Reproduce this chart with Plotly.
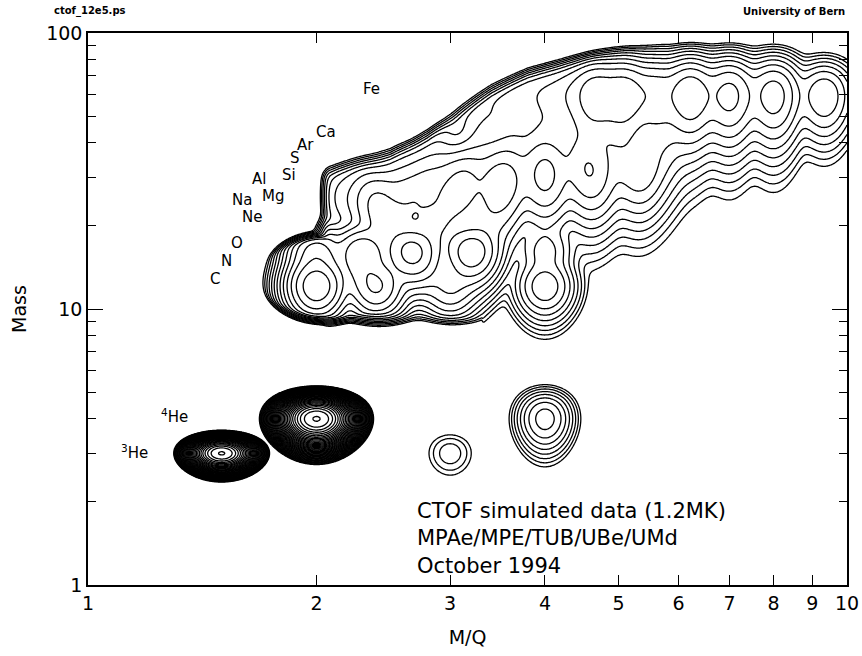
import numpy as np
import plotly.graph_objects as go

# ---------------- ion peaks ----------------
# helium: position (M/Q, mass), peak height (log10 counts), widths and profile exponent
he_mq = [1.5, 2.0, 3.0, 4.0]
he_mass = [3.0, 4.0, 3.0, 4.0]
he_logcounts = [10.82, 11.72, 1.1, 2.55]
he_width_logmq = [0.0227, 0.0261, 0.0311, 0.0315]
he_width_mass = [0.23, 0.44, 0.558, 0.88]
he_profile_power = [2.3, 2.3, 2.0, 2.0]

# heavy ions (C ... Fe), one entry per charge state
heavy_mq = [2.0, 2.4, 3.0, 4.0,                                  # C
            2.0, 2.33, 2.8,                                      # N
            2.0, 2.29, 2.67, 3.2, 4.0,                           # O
            2.5, 2.86, 3.33,                                     # Ne
            2.18, 2.4, 2.67, 3.0, 3.43,                          # Mg
            2.15, 2.33, 2.55, 2.8, 3.11, 3.5, 4.0, 4.67,         # Si
            2.29, 2.67, 2.91, 3.2, 3.56, 4.0, 4.57, 5.33,        # S
            2.5, 2.86, 3.33, 3.64, 4.0, 4.44, 5.0, 5.71,         # Ar
            2.95, 3.11, 3.29, 3.5, 3.73, 4.0, 4.31, 4.67, 5.09, 5.6,
            6.22, 7.0, 8.0, 9.33, 11.2]                          # Fe
heavy_mass = [12, 12, 12, 12,
              14, 14, 14,
              16, 16, 16, 16, 16,
              20, 20, 20,
              24, 24, 24, 24, 24,
              28, 28, 28, 28, 28, 28, 28, 28,
              32, 32, 32, 32, 32, 32, 32, 32,
              40, 40, 40, 40, 40, 40, 40, 40,
              59, 59, 59, 59, 59, 59, 59, 59, 59, 59,
              59, 59, 59, 59, 59]
heavy_logcounts = [4.1, 3.6, 2.7, 2.6,
                   3.2, 3.1, 2.6,
                   3.4, 3.5, 3.7, 3.5, 2.2,
                   3.0, 2.9, 2.6,
                   2.0, 3.0, 2.8, 2.8, 2.5,
                   1.8, 2.1, 2.3, 2.6, 3.0, 3.1, 2.7, 2.3,
                   1.6, 2.0, 2.2, 2.4, 2.6, 2.9, 2.9, 2.6,
                   1.6, 1.9, 2.1, 2.2, 2.3, 2.4, 2.4, 2.2,
                   1.4, 1.6, 1.8, 1.95, 2.1, 2.3, 2.55, 3.2, 3.2, 2.9,
                   3.25, 3.1, 2.85, 2.35, 1.8]
heavy_sigma_mass = [1.3, 1.3, 1.3, 1.3,
                    1.5, 1.5, 1.5,
                    1.8, 1.8, 1.8, 1.8, 1.8,
                    2.6, 2.6, 2.6,
                    3.4, 3.4, 3.4, 3.4, 3.4,
                    4.2, 4.2, 4.2, 4.2, 4.2, 4.2, 4.2, 4.2,
                    5.0, 5.0, 5.0, 5.0, 5.0, 5.0, 5.0, 5.0,
                    7.0, 7.0, 7.0, 7.0, 7.0, 7.0, 7.0, 7.0,
                    9.5, 9.5, 9.5, 9.5, 9.5, 9.5, 9.5, 9.5, 9.5, 9.5,
                    9.5, 9.5, 9.5, 8.5, 8.5]
heavy_sigma_logmq = 0.017

# acceptance of the heavy-ion region: C/N/O lobe (ellipse) joined to the main body
lobe_center_mq = 2.1
lobe_center_mass = 13.0
lobe_halfwidth_logmq = 0.098
lobe_halfheight_logmass = 0.145
body_left_mq = 2.06
upper_edge_mq = [1.0, 2.1, 2.5, 2.8, 3.1, 3.4, 3.8, 4.3, 4.9, 5.7, 8.0, 9.0, 12.0]
upper_edge_mass = [31, 31, 35, 41, 50, 59, 69, 77, 85, 92, 95, 93, 85]
lower_edge_mq = [1.0, 2.0, 3.3, 3.5, 12.0]
lower_edge_mass = [9.7, 9.6, 9.1, 5.0, 5.0]

# element labels
elem_names = ["Fe", "Ca", "Ar", "S", "Si", "Al", "Mg", "Na", "Ne", "O", "N", "C",
              "<sup>4</sup>He", "<sup>3</sup>He"]
elem_label_mq = [2.366, 2.059, 1.932, 1.874, 1.840, 1.680, 1.753, 1.595, 1.644, 1.571, 1.524, 1.470,
                 1.302, 1.153]
elem_label_mass = [62.7, 43.8, 39.3, 35.2, 30.6, 29.6, 25.6, 24.8, 21.5, 17.3, 14.9, 12.8,
                   4.09, 3.03]

# ---------------- count-rate map on a log grid ----------------
u = np.linspace(0.0, 1.0, 701)
v = np.linspace(0.0, 2.0, 601)
U, V = np.meshgrid(u, v)
M = 10 ** V


def sig(t):
    return 1.0 / (1.0 + 10.0 ** (-np.clip(t, -40, 40)))


heavy = np.zeros_like(U)
for mq, m, a, sm in zip(heavy_mq, heavy_mass, heavy_logcounts, heavy_sigma_mass):
    heavy += 10 ** a * np.exp(-0.5 * ((U - np.log10(mq)) / heavy_sigma_logmq) ** 2
                              - 0.5 * ((M - m) / sm) ** 2)

d_lobe = np.sqrt(((U - np.log10(lobe_center_mq)) / lobe_halfwidth_logmq) ** 2
                 + ((V - np.log10(lobe_center_mass)) / lobe_halfheight_logmass) ** 2) - 1.0
lobe = sig(-13 * d_lobe)
v_top = np.interp(U, np.log10(upper_edge_mq), np.log10(upper_edge_mass))
v_bot = np.interp(U, np.log10(lower_edge_mq), np.log10(lower_edge_mass))
body = sig(150 * (U - np.log10(body_left_mq))) * sig(40 * (v_top - V)) * sig(50 * (V - v_bot))
accept = 1 - (1 - lobe) * (1 - body)

light = np.zeros_like(U)
for mq, m, a, su, sm, p in zip(he_mq, he_mass, he_logcounts, he_width_logmq, he_width_mass,
                               he_profile_power):
    r = np.sqrt(((U - np.log10(mq)) / su) ** 2 + ((M - m) / sm) ** 2)
    light += 10 ** (a - r ** p)

Z = np.log10(heavy * accept + light + 1e-3)

fig = go.Figure()
fig.add_trace(go.Contour(
    x=10 ** u, y=10 ** v, z=Z,
    contours=dict(coloring="lines", start=0.3, end=13.0, size=0.3),
    colorscale=[[0, "black"], [1, "black"]],
    line=dict(width=1.3), showscale=False, hoverinfo="skip",
))

font = "DejaVu Sans"
for name, mq, m in zip(elem_names, elem_label_mq, elem_label_mass):
    fig.add_annotation(x=np.log10(mq), y=np.log10(m), text=name, showarrow=False,
                       font=dict(family=font, size=15, color="black"))

fig.add_annotation(xref="paper", yref="paper", x=(415 - 88) / 759, y=(585 - 497) / 552,
                   xanchor="left", yanchor="top", align="left", showarrow=False,
                   text="CTOF simulated data (1.2MK)<br>MPAe/MPE/TUB/UBe/UMd<br>October 1994",
                   font=dict(family=font, size=21, color="black"))
fig.add_annotation(xref="paper", yref="paper", x=-36 / 759, y=1 + 22 / 552,
                   xanchor="left", yanchor="middle", showarrow=False, text="<b>ctof_12e5.ps</b>",
                   font=dict(family=font, size=10, color="black"))
fig.add_annotation(xref="paper", yref="paper", x=1.0, y=1 + 22 / 552,
                   xanchor="right", yanchor="middle", showarrow=False, text="<b>University of Bern</b>",
                   font=dict(family=font, size=10, color="black"))

x_ticks = [1, 2, 3, 4, 5, 6, 7, 8, 9, 10]
y_ticks = [1, 10, 100]
y_minor = [2, 3, 4, 5, 6, 7, 8, 9, 20, 30, 40, 50, 60, 70, 80, 90]

axis_common = dict(type="log", showline=True, linecolor="black", linewidth=1.5, mirror="ticks",
                   ticks="inside", tickcolor="black", tickwidth=1.3, showgrid=False, zeroline=False,
                   tickfont=dict(family=font, size=19, color="black"))
fig.update_xaxes(range=[0, 1], tickvals=x_ticks, ticktext=[str(t) for t in x_ticks], ticklen=10,
                 title=dict(text="M/Q", font=dict(family=font, size=19, color="black"), standoff=18),
                 **axis_common)
fig.update_yaxes(range=[0, 2], tickvals=y_ticks, ticktext=[str(t) for t in y_ticks], ticklen=15,
                 minor=dict(tickvals=y_minor, ticklen=8, ticks="inside", tickcolor="black", tickwidth=1.3),
                 title=dict(text="Mass", font=dict(family=font, size=19, color="black"), standoff=15),
                 **axis_common)

fig.update_layout(width=862, height=656, margin=dict(l=88, r=15, t=33, b=71, autoexpand=False),
                  paper_bgcolor="white", plot_bgcolor="white", showlegend=False)
fig.write_html("out.html")
